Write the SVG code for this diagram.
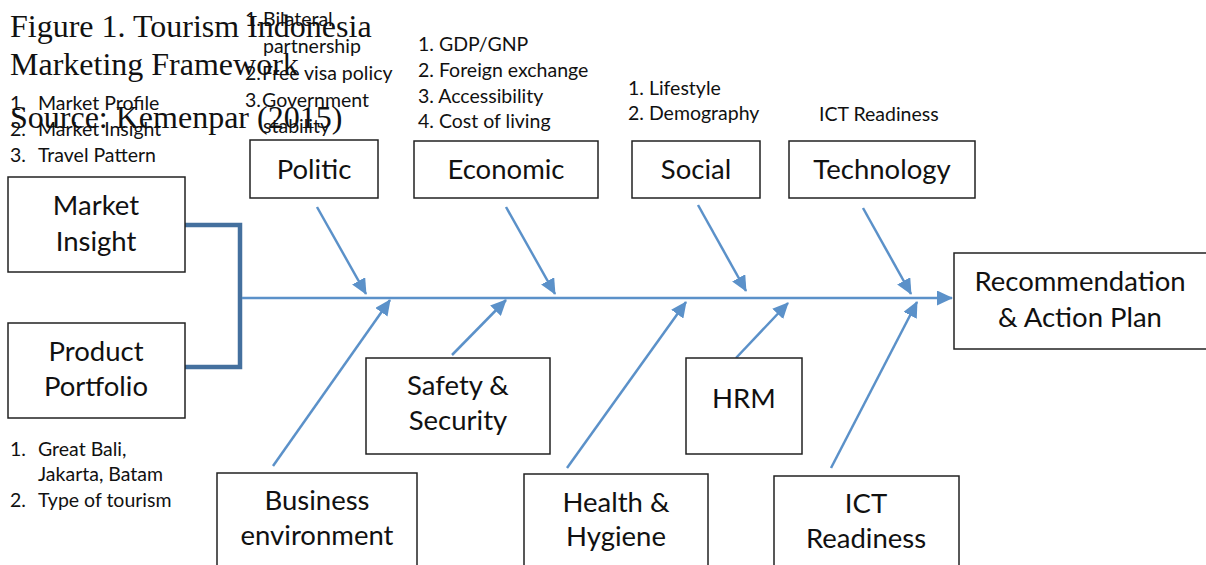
<svg xmlns="http://www.w3.org/2000/svg" width="1206" height="565" viewBox="0 0 1206 565">
<style>
.box{fill:#fff;stroke:#222;stroke-width:1.5}
.lbl{font-family:Lato,"Liberation Sans",sans-serif;font-size:27.5px;fill:#111;text-anchor:middle}
.sm{font-family:Lato,"Liberation Sans",sans-serif;font-size:19.5px;fill:#111}
.title{font-family:"Liberation Serif",serif;font-size:32px;fill:#111}
.arr{stroke:#5B91C9;stroke-width:2.5;fill:none;marker-end:url(#ah)}
</style>
<defs>
<marker id="ah" markerUnits="userSpaceOnUse" markerWidth="16" markerHeight="15" refX="15" refY="7.5" orient="auto">
<path d="M0,0 L16,7.5 L0,15 Z" fill="#5B91C9"/>
</marker>
</defs>
<rect width="1206" height="565" fill="#fff"/>

<g id="connectors">
<path d="M185,225 H240 V367 H185" fill="none" stroke="#44709E" stroke-width="4.5"/>
<line class="arr" x1="242" y1="298" x2="952" y2="298"/>
<line class="arr" x1="317" y1="207" x2="366" y2="294"/>
<line class="arr" x1="506" y1="207" x2="555" y2="294"/>
<line class="arr" x1="698" y1="205" x2="746" y2="291"/>
<line class="arr" x1="863" y1="208" x2="911" y2="294"/>
<line class="arr" x1="273" y1="466" x2="390" y2="300"/>
<line class="arr" x1="452" y1="355" x2="506" y2="300"/>
<line class="arr" x1="567" y1="468" x2="686" y2="302"/>
<line class="arr" x1="736" y1="358" x2="788" y2="303"/>
<line class="arr" x1="831" y1="468" x2="917" y2="302"/>
</g>

<g id="title">
<text class="title" x="10" y="37">Figure 1. Tourism Indonesia</text>
<text class="title" x="10" y="75">Marketing Framework</text>
<text class="title" x="10" y="128">Source: Kemenpar (2015)</text>
</g>

<g id="politic-notes" class="sm">
<text x="245" y="26">1.</text><text x="263" y="26">Bilateral</text>
<text x="263" y="53">partnership</text>
<text x="245" y="80">2.</text><text x="262" y="80">Free visa policy</text>
<text x="245" y="107">3.</text><text x="262" y="107">Government</text>
<text x="263" y="133">stability</text>
</g>
<g id="economic-notes" class="sm">
<text x="418" y="51">1. GDP/GNP</text>
<text x="418" y="77">2. Foreign exchange</text>
<text x="418" y="103">3. Accessibility</text>
<text x="418" y="128">4. Cost of living</text>
</g>
<g id="social-notes" class="sm">
<text x="628" y="95">1. Lifestyle</text>
<text x="628" y="120">2. Demography</text>
</g>
<g id="tech-notes" class="sm">
<text x="819" y="121">ICT Readiness</text>
</g>
<g id="market-notes" class="sm">
<text x="10" y="110">1.</text><text x="38" y="110">Market Profile</text>
<text x="10" y="136">2.</text><text x="38" y="136">Market Insight</text>
<text x="10" y="162">3.</text><text x="38" y="162">Travel Pattern</text>
</g>
<g id="product-notes" class="sm">
<text x="10" y="456">1.</text><text x="38" y="456">Great Bali,</text>
<text x="38" y="481">Jakarta, Batam</text>
<text x="10" y="507">2.</text><text x="38" y="507">Type of tourism</text>
</g>

<g id="politic"><rect class="box" x="250" y="140" width="128" height="58"/><text class="lbl" x="314" y="179">Politic</text></g>
<g id="economic"><rect class="box" x="414" y="141" width="184" height="57"/><text class="lbl" x="506" y="179">Economic</text></g>
<g id="social"><rect class="box" x="632" y="141" width="128" height="57"/><text class="lbl" x="696" y="179">Social</text></g>
<g id="technology"><rect class="box" x="789" y="141" width="186" height="57"/><text class="lbl" x="882" y="179">Technology</text></g>
<g id="market-insight"><rect class="box" x="8" y="177" width="177" height="95"/><text class="lbl" x="96" y="215">Market</text><text class="lbl" x="96" y="251">Insight</text></g>
<g id="product-portfolio"><rect class="box" x="8" y="323" width="177" height="95"/><text class="lbl" x="96" y="361">Product</text><text class="lbl" x="96" y="396">Portfolio</text></g>
<g id="recommendation"><rect class="box" x="954" y="253" width="260" height="96"/><text class="lbl" x="1080" y="291">Recommendation</text><text class="lbl" x="1080" y="327">&amp; Action Plan</text></g>
<g id="safety"><rect class="box" x="366" y="358" width="184" height="96"/><text class="lbl" x="458" y="395">Safety &amp;</text><text class="lbl" x="458" y="430">Security</text></g>
<g id="hrm"><rect class="box" x="686" y="358" width="116" height="96"/><text class="lbl" x="744" y="408">HRM</text></g>
<g id="business"><rect class="box" x="217" y="473" width="200" height="110"/><text class="lbl" x="317" y="510">Business</text><text class="lbl" x="317" y="545">environment</text></g>
<g id="health"><rect class="box" x="524" y="474" width="184" height="110"/><text class="lbl" x="616" y="512">Health &amp;</text><text class="lbl" x="616" y="546">Hygiene</text></g>
<g id="ict"><rect class="box" x="774" y="476" width="185" height="110"/><text class="lbl" x="866" y="513">ICT</text><text class="lbl" x="866" y="548">Readiness</text></g>
</svg>
